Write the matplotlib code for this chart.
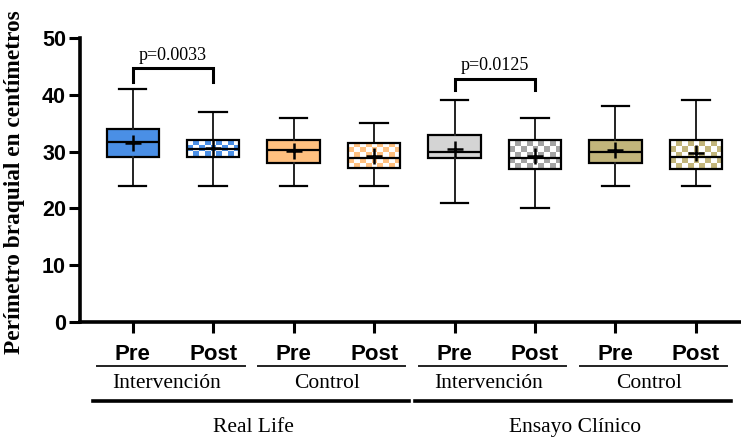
import numpy as np
import matplotlib
matplotlib.use("Agg")
import matplotlib.pyplot as plt
from matplotlib.colors import ListedColormap

# --- data ---
positions = [0, 1, 2, 3, 4, 5, 6, 7]
tick_labels = ["Pre", "Post", "Pre", "Post", "Pre", "Post", "Pre", "Post"]
q1 = [29.0, 29.0, 28.0, 27.1, 28.8, 27.0, 28.0, 27.0]
q3 = [34.0, 32.0, 32.0, 31.6, 33.0, 32.0, 32.0, 32.0]
med = [31.7, 30.5, 30.2, 28.9, 30.0, 28.9, 30.0, 29.0]
mean = [31.6, 30.6, 30.1, 29.2, 30.4, 29.2, 30.2, 29.8]
whislo = [24, 24, 24, 24, 21, 20, 24, 24]
whishi = [41, 37, 36, 35, 39, 36, 38, 39]

colors = ["#4A8FE6", "#4A8FE6", "#FFC07F", "#FFC07F",
          "#D4D4D4", "#A3A3A3", "#C2B57B", "#C2B57B"]
checkered = [False, True, False, True, False, True, False, True]

groups = ["Intervención", "Control", "Intervención", "Control"]
supergroups = ["Real Life", "Ensayo Clínico"]

# significance brackets: (left, right, top, leg bottom, label)
brackets = [(0, 1, 44.7, 42.3, "p=0.0033"),
            (4, 5, 42.8, 40.8, "p=0.0125")]

SANS = "Liberation Sans"
SERIF = "Liberation Serif"

fig = plt.figure(figsize=(7.41, 4.41), dpi=100)
ax = fig.add_axes([80 / 741, 1 - 322 / 441, 661 / 741, 284 / 441])

stats = []
for i in range(len(positions)):
    stats.append({"med": med[i], "q1": q1[i], "q3": q3[i],
                  "whislo": whislo[i], "whishi": whishi[i],
                  "mean": mean[i], "fliers": []})

bp = ax.bxp(stats, positions=positions, widths=0.65, capwidths=0.34,
            patch_artist=True, showmeans=True, showfliers=False,
            boxprops=dict(linewidth=1.6, edgecolor="black"),
            whiskerprops=dict(linewidth=1.4, color="#222222"),
            capprops=dict(linewidth=1.6, color="black"),
            medianprops=dict(linewidth=1.6, color="black"),
            meanprops=dict(marker="+", markersize=11, markeredgewidth=1.8,
                           markeredgecolor="black"))

sq_px = 5.6
for i, box in enumerate(bp["boxes"]):
    if not checkered[i]:
        box.set_facecolor(colors[i])
        continue
    box.set_facecolor("none")
    box.set_zorder(3)
    ncol = 9
    nrow = max(2, int(round((q3[i] - q1[i]) * 5.68 / sq_px)))
    grid = (np.add.outer(np.arange(nrow), np.arange(ncol)) % 2).astype(float)
    cmap = ListedColormap(["white", colors[i]])
    im = ax.imshow(grid, cmap=cmap, vmin=0, vmax=1, interpolation="nearest",
                   aspect="auto", origin="lower", zorder=1.5,
                   extent=(positions[i] - 0.325, positions[i] + 0.325, q1[i], q3[i]))
    im.set_clip_path(box)

for m in bp["medians"]:
    m.set_zorder(4)
for m in bp["means"]:
    m.set_zorder(5)

ax.set_xlim(-0.655, 7.56)
ax.set_ylim(0, 50)
ax.set_yticks([0, 10, 20, 30, 40, 50])
ax.set_xticks(positions)
ax.set_xticklabels(tick_labels)
for lab in ax.get_yticklabels():
    lab.set_fontfamily(SANS)
    lab.set_fontweight("bold")
    lab.set_fontsize(15.5)
for lab in ax.get_xticklabels():
    lab.set_fontfamily(SANS)
    lab.set_fontweight("bold")
    lab.set_fontsize(16)
ax.tick_params(axis="x", length=8, width=2.2, pad=8)
ax.tick_params(axis="y", length=8, width=2.2, pad=2)

for s in ["top", "right"]:
    ax.spines[s].set_visible(False)
for s in ["left", "bottom"]:
    ax.spines[s].set_linewidth(2.6)

# significance brackets
for x0, x1, top, bot, txt in brackets:
    ax.plot([x0, x0, x1, x1], [bot, top, top, bot], color="black",
            linewidth=2.2, solid_joinstyle="miter", clip_on=False)
    ax.text((x0 + x1) / 2, top + 0.8, txt, ha="center", va="bottom",
            fontfamily=SERIF, fontsize=13)

# hierarchical x labels
tr = ax.get_xaxis_transform()
for k, g in enumerate(groups):
    c = positions[2 * k] + 0.5
    ax.plot([c - 0.94, c + 0.89], [-0.155, -0.155], transform=tr,
            color="#222222", linewidth=1.4, clip_on=False)
    ax.text(c - 0.08, -0.215, g, transform=tr, ha="center", va="center",
            fontfamily=SERIF, fontsize=15.5)

for k, g in enumerate(supergroups):
    c = positions[4 * k] + 1.5
    ax.plot([c - 1.99, c + 1.93], [-0.278, -0.278], transform=tr,
            color="black", linewidth=2.6, clip_on=False)
    ax.text(c, -0.373, g, transform=tr, ha="center", va="center",
            fontfamily=SERIF, fontsize=15.5)

fig.text(15 / 741, 1 - 182 / 441, "Perímetro braquial en centímetros",
         rotation=90, ha="center", va="center", fontfamily=SERIF,
         fontweight="bold", fontsize=16.8)

fig.savefig("out.png", dpi=100)
